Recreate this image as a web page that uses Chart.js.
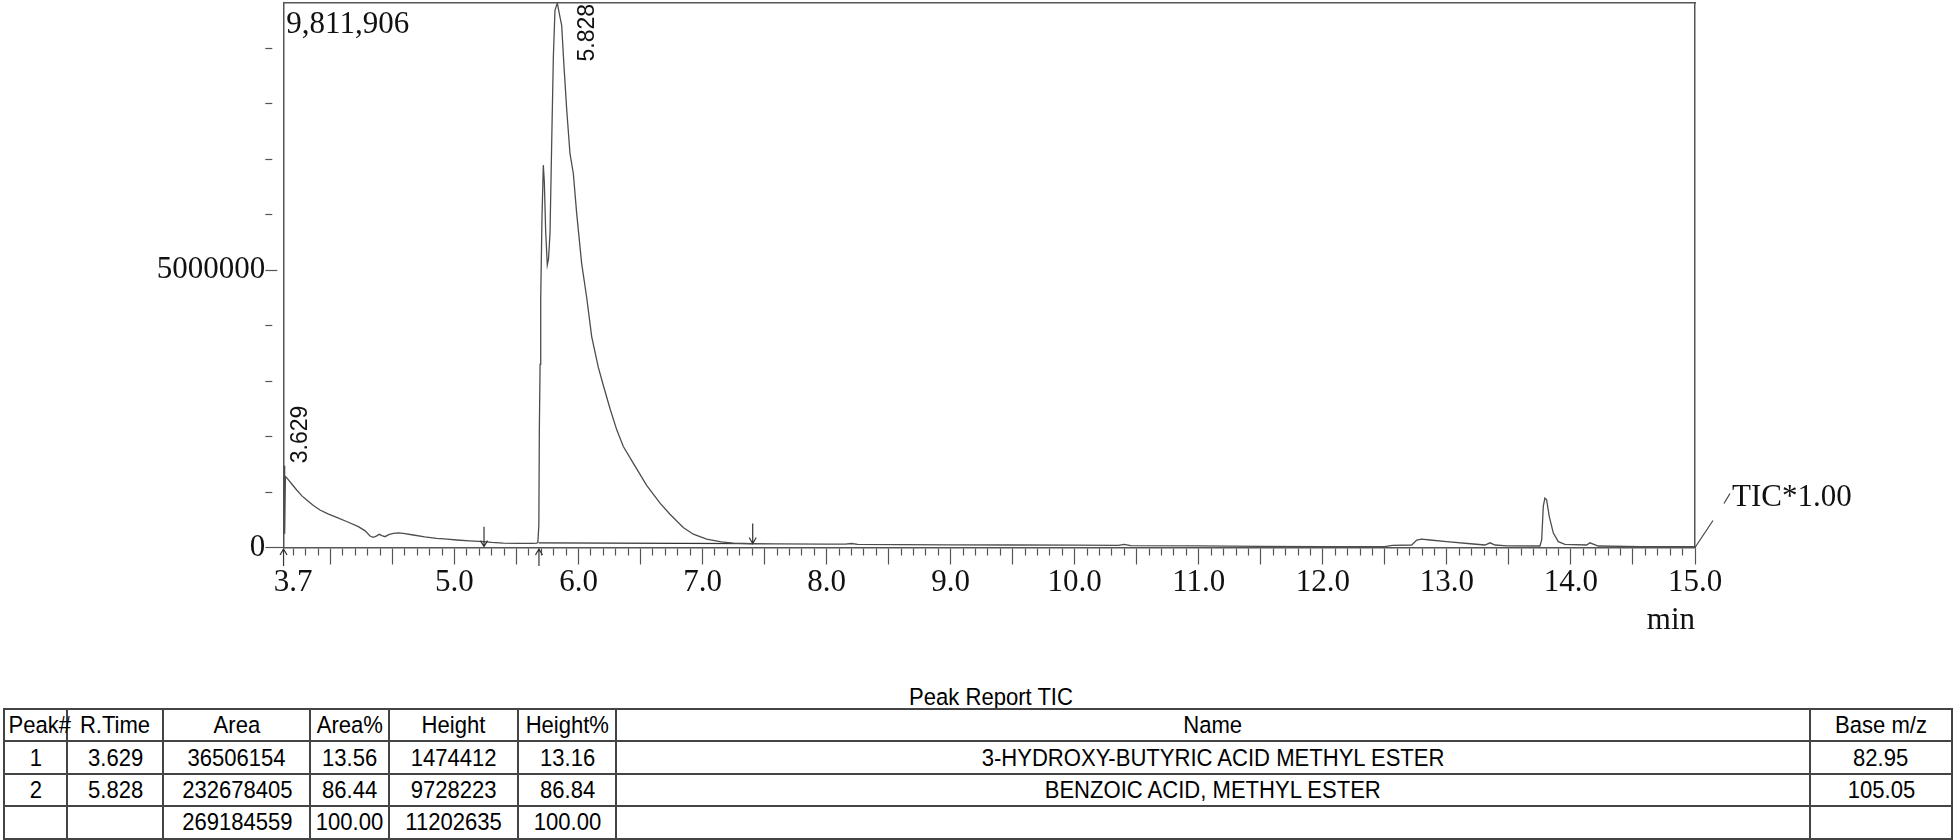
<!DOCTYPE html>
<html>
<head>
<meta charset="utf-8">
<script src="https://cdn.jsdelivr.net/npm/chart.js@4/dist/chart.umd.min.js"></script>
<style>
  html, body { margin: 0; padding: 0; background: #fff; }
  #wrap { position: relative; width: 1957px; height: 840px; overflow: hidden; }
  #tic { position: absolute; left: 0; top: 0; }
  .report-title {
    position: absolute; left: 791px; top: 684px; width: 400px; text-align: center;
    font-family: "Liberation Sans", sans-serif;
    font-size: 24.5px; line-height: 26px; color: #000;
  }
  .report-title span, table.report td span { display: inline-block; transform: scaleX(0.9); }
  table.report {
    position: absolute; left: 3px; top: 708px; width: 1949px;
    border-collapse: collapse; table-layout: fixed;
    font-family: "Liberation Sans", sans-serif;
    font-size: 24.5px; color: #000;
  }
  table.report tr { height: 32.4px; }
  table.report td {
    border: 2px solid #444; padding: 0; text-align: center;
    white-space: nowrap; line-height: 28px;
  }
</style>
</head>
<body>
<div id="wrap">
  <canvas id="tic" width="1957" height="660"></canvas>
  <div class="report-title"><span>Peak Report TIC</span></div>
  <table class="report" id="report"></table>
</div>
<script>
// TIC trace (min, counts)
const retTime = [
  3.620, 3.626, 3.631, 3.637, 3.650, 3.690, 3.728, 3.770, 3.809, 3.860,
  3.916, 3.980, 4.050, 4.140, 4.225, 4.280, 4.319, 4.345, 4.370, 4.394,
  4.415, 4.440, 4.470, 4.507, 4.550, 4.587, 4.668, 4.760, 4.857, 4.940,
  5.018, 5.120, 5.232, 5.300, 5.393, 5.500, 5.635, 5.662, 5.672, 5.680,
  5.684, 5.690, 5.695, 5.705, 5.716, 5.724, 5.735, 5.748, 5.758, 5.770,
  5.784, 5.797, 5.810, 5.829, 5.845, 5.864, 5.883, 5.905, 5.931, 5.958,
  5.985, 6.025, 6.066, 6.106, 6.159, 6.200, 6.254, 6.308, 6.361, 6.441,
  6.549, 6.657, 6.737, 6.844, 6.925, 7.033, 7.150, 7.248, 7.404, 7.600,
  8.000, 8.150, 8.200, 8.250, 8.600, 9.000, 9.500, 10.000, 10.350, 10.400,
  10.450, 11.000, 11.500, 12.000, 12.500, 12.560, 12.716, 12.757, 12.797, 12.864,
  12.998, 13.213, 13.307, 13.348, 13.388, 13.482, 13.750, 13.764, 13.777, 13.790,
  13.804, 13.825, 13.858, 13.898, 13.952, 14.127, 14.153, 14.220, 14.560, 15.000
];
const intensity = [
  20000, 1474412, 250000, 1280000, 1250000, 1140000, 1036000, 930000, 856000, 760000,
  676000, 605000, 544000, 460000, 375000, 300000, 207000, 184000, 205000, 238000,
  215000, 195000, 232000, 256000, 262000, 256000, 225000, 192000, 166000, 150000,
  135000, 120000, 105000, 92000, 80000, 76000, 76000, 78000, 90000, 400000,
  2100000, 3300000, 4460000, 5900000, 6890000, 6600000, 5700000, 5090000, 5200000, 5660000,
  7340000, 8840000, 9680000, 9811906, 9620000, 9410000, 8660000, 7880000, 7100000, 6740000,
  6020000, 5120000, 4500000, 3800000, 3250000, 2920000, 2500000, 2120000, 1820000, 1520000,
  1120000, 800000, 600000, 360000, 240000, 150000, 100000, 78000, 68000, 64000,
  62000, 62000, 72000, 58000, 52000, 48000, 45000, 42000, 40000, 55000,
  34000, 30000, 22000, 16000, 14000, 40000, 45000, 135000, 150000, 135000,
  105000, 63000, 45000, 85000, 45000, 28000, 27000, 135000, 740000, 890000,
  860000, 560000, 260000, 105000, 57000, 45000, 85000, 27000, 15000, 15000
];

// integration baseline of peak 2 and the start / end markers
const baseTime = [5.680, 7.404];
const baseLevel = [85000, 70000];
const peakStart = [3.622, 5.681];
const peakEnd = [5.238, 7.404];
const peakEndLevel = [15000, 72000];

const xLabelTicks = [3.7, 5, 6, 7, 8, 9, 10, 11, 12, 13, 14, 15];
const yLabelTicks = [0, 5000000];

// peak report
const peakNo = [1, 2];
const rTime = [3.629, 5.828];
const area = [36506154, 232678405];
const areaPct = [13.56, 86.44];
const peakHeight = [1474412, 9728223];
const heightPct = [13.16, 86.84];
const compound = ["3-HYDROXY-BUTYRIC ACID METHYL ESTER", "BENZOIC ACID, METHYL ESTER"];
const baseMz = [82.95, 105.05];

const serif = "Liberation Serif";
const axisColor = "#555";
const labelDx = [23, 37];
const near = (a, b) => Math.abs(a - b) < 1e-6;

const marks = {
  id: "marks",
  afterDraw(chart) {
    const { ctx, chartArea, scales } = chart;
    const xs = scales.x, ys = scales.y;
    ctx.save();
    ctx.fillStyle = "#111";
    ctx.strokeStyle = "#333";
    ctx.lineWidth = 1.2;

    ctx.font = `31px "${serif}"`;
    ctx.textAlign = "left";
    ctx.textBaseline = "alphabetic";
    ctx.fillText(Math.max(...intensity).toLocaleString("en-US"), chartArea.left + 3, 33);

    // retention time labels, rotated
    ctx.font = '23px "Liberation Sans"';
    rTime.forEach((t, i) => {
      const label = t.toFixed(3);
      const w = ctx.measureText(label).width;
      const x = xs.getPixelForValue(t) + labelDx[i];
      const y = Math.max(ys.getPixelForValue(peakHeight[i]) - 2.5, chartArea.top + w + 1);
      ctx.save();
      ctx.translate(x, y);
      ctx.rotate(-Math.PI / 2);
      ctx.fillText(label, 0, 0);
      ctx.restore();
    });

    // peak start arrows (below axis, pointing up)
    peakStart.forEach((t) => {
      const x = xs.getPixelForValue(t);
      const y0 = chartArea.bottom + 1.5;
      ctx.beginPath();
      ctx.moveTo(x, y0); ctx.lineTo(x, y0 + 17);
      ctx.moveTo(x - 3.5, y0 + 6); ctx.lineTo(x, y0); ctx.lineTo(x + 3.5, y0 + 6);
      ctx.stroke();
    });
    // peak end arrows (pointing down)
    peakEnd.forEach((t, i) => {
      const x = xs.getPixelForValue(t);
      const y1 = ys.getPixelForValue(peakEndLevel[i]);
      ctx.beginPath();
      ctx.moveTo(x, y1 - 20); ctx.lineTo(x, y1);
      ctx.moveTo(x - 3.5, y1 - 6); ctx.lineTo(x, y1); ctx.lineTo(x + 3.5, y1 - 6);
      ctx.stroke();
    });

    // TIC*1.00 tag
    const R = chartArea.right, B = chartArea.bottom;
    ctx.strokeStyle = "#444";
    ctx.beginPath();
    ctx.moveTo(R, B); ctx.lineTo(R + 18, B - 27);
    ctx.moveTo(R + 29, B - 44); ctx.lineTo(R + 35, B - 54);
    ctx.stroke();
    ctx.font = `31px "${serif}"`;
    ctx.fillText("TIC*1.00", R + 37, B - 42);
    ctx.restore();
  }
};

new Chart(document.getElementById("tic"), {
  type: "line",
  data: {
    datasets: [
      {
        data: retTime.map((t, i) => ({ x: t, y: intensity[i] })),
        borderColor: "#4d4d4d",
        borderWidth: 1.3,
        pointRadius: 0,
        tension: 0,
        fill: false,
      },
      {
        data: baseTime.map((t, i) => ({ x: t, y: baseLevel[i] })),
        borderColor: "#333",
        borderWidth: 1.3,
        pointRadius: 0,
        fill: false,
      },
    ],
  },
  options: {
    responsive: false,
    animation: false,
    devicePixelRatio: 1,
    events: [],
    layout: { padding: { left: 0, top: 3, right: 262, bottom: 0 } },
    plugins: { legend: { display: false }, tooltip: { enabled: false } },
    scales: {
      x: {
        type: "linear",
        position: "bottom",
        min: 3.62,
        max: 15,
        afterBuildTicks: (s) => {
          s.ticks = [];
          for (let k = 37; k <= 150; k++) s.ticks.push({ value: k / 10 });
        },
        afterFit: (s) => { s.height = 112.5; s.paddingLeft = 0; s.paddingRight = 0; },
        ticks: {
          autoSkip: false, maxRotation: 0, minRotation: 0, padding: 0,
          font: { family: serif, size: 31 }, color: "#111",
          callback: (v) => (xLabelTicks.some((t) => near(t, v)) ? v.toFixed(1) : ""),
        },
        grid: {
          drawOnChartArea: false, tickLength: 17, tickColor: axisColor, tickWidth: 1.2,
          tickBorderDash: (c) => (!c.tick || near(c.tick.value * 2, Math.round(c.tick.value * 2)) ? [] : [7, 60]),
        },
        border: { display: true, color: axisColor, width: 1.5 },
        title: {
          display: true, text: "min", align: "end",
          font: { family: serif, size: 31 }, color: "#111",
          padding: { top: 0, bottom: 21 },
        },
      },
      y: {
        type: "linear",
        position: "left",
        min: 0,
        max: 9811906,
        afterBuildTicks: (s) => {
          s.ticks = [];
          for (let k = 0; k <= 9; k++) s.ticks.push({ value: k * 1000000 });
        },
        afterFit: (s) => { s.width = 283.3; s.paddingTop = 0; s.paddingBottom = 0; },
        ticks: {
          autoSkip: false, padding: 0,
          font: { family: serif, size: 31 }, color: "#111",
          callback: (v) => (yLabelTicks.includes(v) ? String(v) : ""),
        },
        grid: {
          drawOnChartArea: false, tickLength: 18, tickColor: axisColor, tickWidth: 1.2,
          tickBorderDash: (c) => (!c.tick || c.tick.value === 0 ? [] : c.tick.value === 5000000 ? [12, 60] : [7, 60]),
        },
        border: { display: true, color: axisColor, width: 1.5 },
      },
      xTop: {
        type: "linear", axis: "x", position: "top", min: 3.62, max: 15,
        ticks: { display: false }, grid: { display: false },
        border: { display: true, color: axisColor, width: 1.5 },
        afterFit: (s) => { s.height = 0; s.paddingLeft = 0; s.paddingRight = 0; },
      },
      yRight: {
        type: "linear", axis: "y", position: "right", min: 0, max: 9811906,
        ticks: { display: false }, grid: { display: false },
        border: { display: true, color: axisColor, width: 1.5 },
        afterFit: (s) => { s.width = 0; s.paddingTop = 0; s.paddingBottom = 0; },
      },
    },
  },
  plugins: [marks],
});

// peak report table
const fmt2 = (v) => v.toFixed(2);
const sum = (a) => a.reduce((s, v) => s + v, 0);
const colWidths = [63.4, 96, 147, 79, 129, 98, 1193.5, 142.5];
const rows = [["Peak#", "R.Time", "Area", "Area%", "Height", "Height%", "Name", "Base m/z"]];
peakNo.forEach((p, i) => {
  rows.push([String(p), rTime[i].toFixed(3), String(area[i]), fmt2(areaPct[i]),
    String(peakHeight[i]), fmt2(heightPct[i]), compound[i], fmt2(baseMz[i])]);
});
rows.push(["", "", String(sum(area)), fmt2(sum(areaPct)), String(sum(peakHeight)), fmt2(sum(heightPct)), "", ""]);

const table = document.getElementById("report");
const cg = document.createElement("colgroup");
colWidths.forEach((w) => {
  const col = document.createElement("col");
  col.style.width = w + "px";
  cg.appendChild(col);
});
table.appendChild(cg);
rows.forEach((r) => {
  const tr = document.createElement("tr");
  r.forEach((cell) => {
    const td = document.createElement("td");
    const span = document.createElement("span");
    span.textContent = cell;
    td.appendChild(span);
    tr.appendChild(td);
  });
  table.appendChild(tr);
});
</script>
</body>
</html>
